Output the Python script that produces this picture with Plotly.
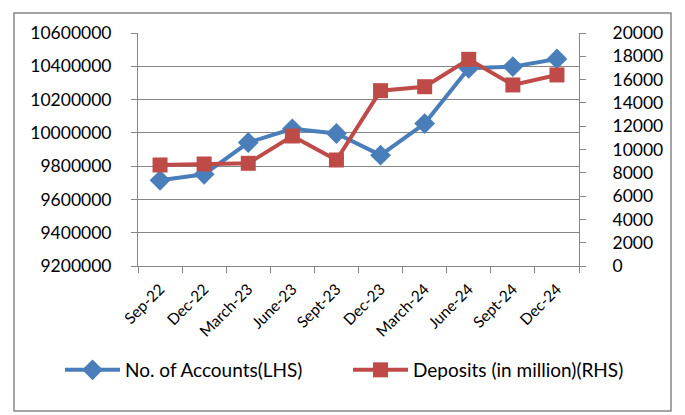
import plotly.graph_objects as go

categories = ["Sep-22", "Dec-22", "March-23", "June-23", "Sept-23",
              "Dec-23", "March-24", "June-24", "Sept-24", "Dec-24"]
accounts = [9715000, 9751000, 9942000, 10024000, 9996000,
            9866000, 10056000, 10388000, 10398000, 10444000]
deposits = [8670, 8755, 8815, 11160, 9100,
            15050, 15390, 17740, 15540, 16400]

left_ticks = [9200000, 9400000, 9600000, 9800000, 10000000, 10200000, 10400000, 10600000]
right_ticks = [0, 2000, 4000, 6000, 8000, 10000, 12000, 14000, 16000, 18000, 20000]

BLUE = "#4A7EBB"
RED = "#BE4B48"
GRID = "#868686"
FONT = "Lato"

# plot area in page pixels (page body has an 8px margin)
PL, PR, PT, PB = 138, 579, 33, 266
OFF = 8
W, H = 685 - OFF, 415 - OFF
PW, PH = PR - PL, PB - PT


def px(x):
    return (x - PL) / PW


def py(y):
    return (PB - y) / PH


fig = go.Figure()
fig.add_trace(go.Scatter(
    x=categories, y=accounts, name="No. of Accounts(LHS)", mode="lines+markers",
    line=dict(color=BLUE, width=4),
    marker=dict(symbol="diamond", size=16, color=BLUE),
    yaxis="y", legend="legend"))
fig.add_trace(go.Scatter(
    x=categories, y=deposits, name="Deposits (in million)(RHS)", mode="lines+markers",
    line=dict(color=RED, width=4),
    marker=dict(symbol="square", size=15, color=RED),
    yaxis="y2", legend="legend2"))

leg_common = dict(orientation="h", xanchor="left", yanchor="middle",
                  font=dict(size=19, family=FONT), itemwidth=55,
                  bgcolor="rgba(0,0,0,0)")

fig.update_layout(
    width=W, height=H,
    margin=dict(l=PL - OFF, r=W - (PR - OFF), t=PT - OFF, b=H - (PB - OFF), autoexpand=False),
    paper_bgcolor="white", plot_bgcolor="white",
    font=dict(family=FONT, color="#000000"),
    showlegend=True,
    legend=dict(x=px(60), y=py(370), **leg_common),
    legend2=dict(x=px(348), y=py(370), **leg_common),
    xaxis=dict(type="category", range=[-0.5, len(categories) - 0.5],
               tickangle=-45, tickson="boundaries",
               ticks="outside", ticklen=6, tickcolor=GRID, automargin=False,
               showline=True, linecolor=GRID, linewidth=1,
               showgrid=False, tickfont=dict(size=15.5, family=FONT),
               ticklabelstandoff=7),
    yaxis=dict(range=[9200000, 10600000], tickvals=left_ticks,
               ticktext=[str(v) for v in left_ticks], automargin=False,
               ticks="outside", ticklen=6, tickcolor=GRID,
               showline=True, linecolor=GRID, linewidth=1,
               showgrid=True, gridcolor=GRID, gridwidth=1, zeroline=False,
               tickfont=dict(size=17.5, family=FONT), ticklabelstandoff=16),
    yaxis2=dict(range=[0, 20000], tickvals=right_ticks,
                ticktext=[str(v) for v in right_ticks], automargin=False,
                overlaying="y", side="right",
                ticks="outside", ticklen=6, tickcolor=GRID,
                showline=True, linecolor=GRID, linewidth=1,
                showgrid=False, zeroline=False,
                tickfont=dict(size=17.5, family=FONT), ticklabelstandoff=23),
)

# outer chart frame
fig.add_shape(type="rect", xref="paper", yref="paper",
              x0=px(14), x1=px(671), y0=py(411), y1=py(13),
              line=dict(color=GRID, width=1.5), fillcolor="rgba(0,0,0,0)", layer="below")

fig.write_html("out.html")
